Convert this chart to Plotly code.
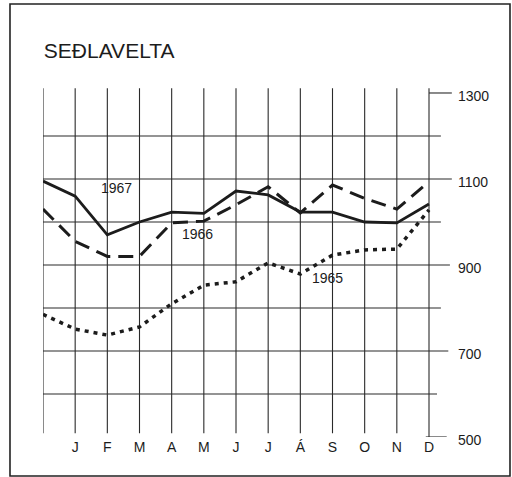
import plotly.graph_objects as go

# positions: 0 = previous December, 1..12 = J..D
positions = list(range(13))
month_labels = ["", "J", "F", "M", "A", "M", "J", "J", "Á", "S", "O", "N", "D"]

s1967 = [1095, 1060, 970, 1000, 1023, 1020, 1072, 1063, 1023, 1023, 1000, 998, 1042]
s1966 = [1030, 955, 920, 920, 998, 1002, 1040, 1082, 1021, 1086, 1055, 1030, 1094]
s1965 = [785, 751, 737, 756, 810, 853, 861, 905, 879, 923, 935, 937, 1028]

y_ticks = [500, 700, 900, 1100, 1300]
title_text = "SEÐLAVELTA"

INK = "#1c1c1c"
GRID = "#2a2a2a"

fig = go.Figure()
fig.add_trace(go.Scatter(x=positions, y=s1965, mode="lines", name="1965",
                         line=dict(color=INK, width=3.5, dash="4px,5px")))
fig.add_trace(go.Scatter(x=positions, y=s1966, mode="lines", name="1966",
                         line=dict(color=INK, width=3, dash="15px,8px")))
fig.add_trace(go.Scatter(x=positions, y=s1967, mode="lines", name="1967",
                         line=dict(color=INK, width=2.8)))

shapes = []
# vertical grid lines
for p in positions:
    shapes.append(dict(type="line", xref="x", yref="y", x0=p, x1=p,
                       y0=(500 if p == 12 else 509), y1=1311,
                       line=dict(color=GRID, width=1.1), layer="below"))
# horizontal grid lines (value, end position)
h_lines = [(1200, 12.37), (1100, 12.71), (1000, 12.37), (900, 12.65),
           (800, 12.37), (700, 12.60), (600, 12.25)]
for v, xe in h_lines:
    shapes.append(dict(type="line", xref="x", yref="y", x0=0, x1=xe, y0=v, y1=v,
                       line=dict(color=GRID, width=1.1), layer="below"))
# end stubs
shapes.append(dict(type="line", xref="x", yref="y", x0=12, x1=12.71, y0=1300, y1=1300,
                   line=dict(color=GRID, width=1.1), layer="below"))
shapes.append(dict(type="line", xref="x", yref="y", x0=11.9, x1=12.55, y0=500, y1=500,
                   line=dict(color=GRID, width=1.1), layer="below"))
# outer frame
shapes.append(dict(type="rect", xref="paper", yref="paper",
                   x0=-0.0807, x1=1.1418, y0=-0.1117, y1=1.2407,
                   line=dict(color="#222", width=1.6)))

annotations = [
    dict(x=2.27, y=1079, text="1967", showarrow=False, xref="x", yref="y",
         font=dict(family="Liberation Sans", size=14, color=INK)),
    dict(x=4.79, y=972, text="1966", showarrow=False, xref="x", yref="y",
         font=dict(family="Liberation Sans", size=14, color=INK)),
    dict(x=8.83, y=870, text="1965", showarrow=False, xref="x", yref="y",
         font=dict(family="Liberation Sans", size=14, color=INK)),
]

fig.update_layout(
    width=512, height=477,
    margin=dict(l=43, r=60, t=88, b=40),
    paper_bgcolor="white", plot_bgcolor="white",
    showlegend=False,
    title=dict(text=title_text, x=0.002, xref="paper", xanchor="left",
               y=1 - 51 / 477, yref="container", yanchor="middle",
               font=dict(family="Liberation Sans", size=21, color=INK)),
    xaxis=dict(range=[0, 12.715], tickvals=positions, ticktext=month_labels,
               showgrid=False, zeroline=False, showline=False, ticks="",
               tickfont=dict(family="Liberation Sans", size=14, color=INK),
               fixedrange=True),
    yaxis=dict(range=[500, 1311.6], side="right", tickvals=y_ticks,
               showgrid=False, zeroline=False, showline=False, ticks="",
               ticklabelstandoff=5, ticklabelshift=3,
               tickfont=dict(family="Liberation Sans", size=14, color=INK),
               fixedrange=True),
    shapes=shapes,
    annotations=annotations,
)

fig.write_html("out.html", config={"displayModeBar": False},
               post_script="document.body.style.margin='0';document.body.style.overflow='hidden';")
